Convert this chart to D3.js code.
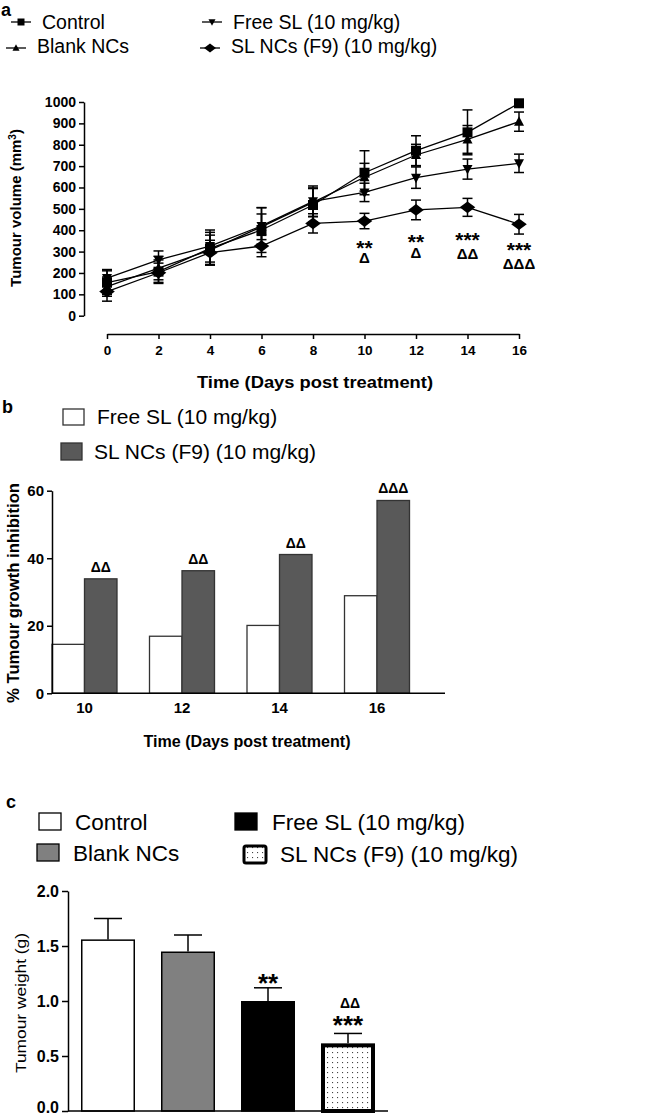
<!DOCTYPE html>
<html>
<head>
<meta charset="utf-8">
<script src="https://cdn.jsdelivr.net/npm/d3@7"></script>
<style>
  body { margin: 0; background: #fff; }
  svg { font-family: "Liberation Sans", Arial, sans-serif; }
  .axis text { font-weight: bold; fill: #000; }
  .axis path, .axis line { stroke: #000; stroke-width: 1.5; }
</style>
</head>
<body>
<script>
// ---- data ----
var days = [0, 2, 4, 6, 8, 10, 12, 14, 16];
var volControl = [155, 206, 315, 401, 518, 669, 772, 858, 994];
var errControl = [55, 55, 75, 105, 80, 103, 70, 105, 15];
var volBlank = [136, 223, 307, 416, 530, 648, 752, 825, 908];
var errBlank = [45, 55, 70, 60, 65, 65, 50, 65, 45];
var volFreeSL = [176, 261, 326, 420, 535, 577, 646, 686, 713];
var errFreeSL = [40, 42, 75, 85, 72, 43, 50, 47, 43];
var volSLNCs = [113, 201, 295, 326, 432, 443, 495, 507, 428];
var errSLNCs = [45, 45, 58, 50, 45, 36, 46, 42, 46];

var sigDays = [10, 12, 14, 16];
var sigStars = ["**", "**", "***", "***"];
var sigStarsAt = [283, 311, 320, 274];     // mm3 units, baseline
var sigDeltas = ["\u0394", "\u0394", "\u0394\u0394", "\u0394\u0394\u0394"];
var sigDeltasAt = [247, 270, 265, 219];

var inhibDays = ["10", "12", "14", "16"];
var inhibFreeSL = [14.5, 16.9, 20.1, 28.9];
var inhibSLNCs = [33.9, 36.3, 41.1, 57.1];
var inhibDeltas = ["\u0394\u0394", "\u0394\u0394", "\u0394\u0394", "\u0394\u0394\u0394"];

var weightGroups = ["Control", "Blank NCs", "Free SL (10 mg/kg)", "SL NCs (F9) (10 mg/kg)"];
var weightMean = [1.56, 1.45, 1.00, 0.615];
var weightErr = [0.19, 0.15, 0.12, 0.09];
var weightStars = ["", "", "**", "***"];
var weightStarsAt = [0, 0, 1.082, 0.70];
var weightDeltas = ["", "", "", "\u0394\u0394"];
var weightDeltasAt = [0, 0, 0, 0.936];

var width = 649, height = 1117;
var svg = d3.select("body").append("svg")
    .attr("width", width)
    .attr("height", height);

// dotted pattern for SL NCs bar
var pat = svg.append("defs").append("pattern")
    .attr("id", "dots")
    .attr("width", 5).attr("height", 5)
    .attr("patternUnits", "userSpaceOnUse");
pat.append("rect").attr("width", 5).attr("height", 5).attr("fill", "#fff");
pat.append("rect").attr("x", 2).attr("y", 2).attr("width", 1.1).attr("height", 1.1).attr("fill", "#444");

function panelLetter (t, x, y) {
    svg.append("text").attr("x", x).attr("y", y)
        .attr("font-size", 18).attr("font-weight", "bold").text(t);
}

function yTitle (x, y, size, weight, text) {
    return svg.append("text")
        .attr("transform", "translate(" + x + "," + y + ") rotate(-90)")
        .attr("text-anchor", "middle")
        .attr("font-size", size)
        .attr("font-weight", weight)
        .text(text);
}

// marker shapes
function markerPath (kind, s) {
    if (kind == "square") return "M" + (-s/2) + "," + (-s/2) + "h" + s + "v" + s + "h" + (-s) + "Z";
    if (kind == "up") return "M0," + (-s*0.55) + "L" + (s/2) + "," + (s*0.4) + "L" + (-s/2) + "," + (s*0.4) + "Z";
    if (kind == "down") return "M0," + (s*0.55) + "L" + (s/2) + "," + (-s*0.4) + "L" + (-s/2) + "," + (-s*0.4) + "Z";
    return "M0," + (-s*0.45) + "L" + (s*0.6) + ",0L0," + (s*0.45) + "L" + (-s*0.6) + ",0Z";
}

// ================= panel a =================
panelLetter("a", 1, 16);

var seriesA = [
    { name: "Control", vals: volControl, errs: errControl, kind: "square", lx: 11, ly: 22, tx: 42, ty: 29 },
    { name: "Blank NCs", vals: volBlank, errs: errBlank, kind: "up", lx: 6, ly: 48, tx: 37, ty: 53 },
    { name: "Free SL (10 mg/kg)", vals: volFreeSL, errs: errFreeSL, kind: "down", lx: 202, ly: 22, tx: 233, ty: 29 },
    { name: "SL NCs (F9) (10 mg/kg)", vals: volSLNCs, errs: errSLNCs, kind: "diamond", lx: 200, ly: 48, tx: 231, ty: 53 }
];

seriesA.forEach(function (s) {
    var g = svg.append("g");
    g.append("line").attr("x1", s.lx).attr("x2", s.lx + 20).attr("y1", s.ly).attr("y2", s.ly)
        .attr("stroke", "#000").attr("stroke-width", 1.3);
    g.append("path").attr("transform", "translate(" + (s.lx + 10) + "," + s.ly + ")")
        .attr("d", markerPath(s.kind, s.kind == "diamond" ? 10 : 7)).attr("fill", "#000");
    g.append("text").attr("x", s.tx).attr("y", s.ty).attr("font-size", 19.5).text(s.name);
});

var xA = d3.scaleLinear().domain([0, 16]).range([107, 519]);
var yA = d3.scaleLinear().domain([0, 1000]).range([315.7, 102]);

svg.append("g").attr("class", "axis")
    .attr("transform", "translate(84,0)")
    .call(d3.axisLeft(yA).tickValues(d3.range(0, 1001, 100)).tickFormat(d3.format("d"))
        .tickSize(5).tickSizeOuter(0).tickPadding(3))
    .selectAll("text").attr("font-size", 14);

svg.append("g").attr("class", "axis")
    .attr("transform", "translate(0,334)")
    .call(d3.axisBottom(xA).tickValues(days).tickSize(5).tickSizeOuter(0).tickPadding(6))
    .selectAll("text").attr("font-size", 13.5);

var lineA = d3.line().x(function (d) { return xA(d[0]); }).y(function (d) { return yA(d[1]); });

seriesA.forEach(function (s) {
    var pts = days.map(function (d, i) { return [d, s.vals[i], s.errs[i]]; });
    svg.append("path").datum(pts).attr("d", lineA)
        .attr("fill", "none").attr("stroke", "#000").attr("stroke-width", 1.3);
    var eb = svg.append("g").attr("stroke", "#000").attr("stroke-width", 1.5);
    pts.forEach(function (p) {
        var x = xA(p[0]);
        eb.append("line").attr("x1", x).attr("x2", x).attr("y1", yA(p[1] - p[2])).attr("y2", yA(p[1] + p[2]));
        eb.append("line").attr("x1", x - 5).attr("x2", x + 5).attr("y1", yA(p[1] + p[2])).attr("y2", yA(p[1] + p[2]));
        eb.append("line").attr("x1", x - 5).attr("x2", x + 5).attr("y1", yA(p[1] - p[2])).attr("y2", yA(p[1] - p[2]));
    });
});
seriesA.forEach(function (s) {
    svg.append("g").selectAll("path").data(days).join("path")
        .attr("transform", function (d, i) { return "translate(" + xA(d) + "," + yA(s.vals[i]) + ")"; })
        .attr("d", markerPath(s.kind, s.kind == "diamond" ? 13 : 10))
        .attr("fill", "#000");
});

sigDays.forEach(function (d, i) {
    svg.append("text").attr("x", xA(d)).attr("y", yA(sigStarsAt[i]))
        .attr("text-anchor", "middle").attr("font-size", 21).attr("font-weight", "bold").text(sigStars[i]);
    svg.append("text").attr("x", xA(d)).attr("y", yA(sigDeltasAt[i]))
        .attr("text-anchor", "middle").attr("font-size", 15).attr("font-weight", "bold").text(sigDeltas[i]);
});

svg.append("text").attr("x", 315).attr("y", 388).attr("text-anchor", "middle")
    .attr("font-size", 16.5).attr("font-weight", "bold")
    .attr("textLength", 236).attr("lengthAdjust", "spacingAndGlyphs")
    .text("Time (Days post treatment)");
var tA = yTitle(21, 208, 15, "bold", "Tumour volume (mm");
tA.append("tspan").attr("dy", -5).attr("font-size", 10).text("3");
tA.append("tspan").attr("dy", 5).text(")");

// ================= panel b =================
panelLetter("b", 2, 413);

svg.append("rect").attr("x", 63).attr("y", 409).attr("width", 21).attr("height", 16)
    .attr("fill", "#fff").attr("stroke", "#333").attr("stroke-width", 1.3);
svg.append("text").attr("x", 97).attr("y", 424).attr("font-size", 21).text("Free SL (10 mg/kg)");
svg.append("rect").attr("x", 61).attr("y", 443).attr("width", 21).attr("height", 17)
    .attr("fill", "#595959").attr("stroke", "#333").attr("stroke-width", 1.3);
svg.append("text").attr("x", 94).attr("y", 459).attr("font-size", 21).text("SL NCs (F9) (10 mg/kg)");

var x0 = d3.scaleBand().domain(inhibDays).range([52, 409.5]).paddingInner(1/3).paddingOuter(0);
var x1 = d3.scaleBand().domain(["free", "nc"]).range([0, x0.bandwidth()]);
var yB = d3.scaleLinear().domain([0, 60]).range([693.3, 490.7]);

var gB = svg.append("g");
gB.selectAll("rect.free").data(inhibDays).join("rect")
    .attr("x", function (d) { return x0(d) + x1("free"); })
    .attr("y", function (d, i) { return yB(inhibFreeSL[i]); })
    .attr("width", x1.bandwidth())
    .attr("height", function (d, i) { return yB(0) - yB(inhibFreeSL[i]); })
    .attr("fill", "#fff").attr("stroke", "#333").attr("stroke-width", 1.3);
gB.selectAll("rect.nc").data(inhibDays).join("rect")
    .attr("x", function (d) { return x0(d) + x1("nc"); })
    .attr("y", function (d, i) { return yB(inhibSLNCs[i]); })
    .attr("width", x1.bandwidth())
    .attr("height", function (d, i) { return yB(0) - yB(inhibSLNCs[i]); })
    .attr("fill", "#595959").attr("stroke", "#333").attr("stroke-width", 1.3);
gB.selectAll("text").data(inhibDays).join("text")
    .attr("x", function (d) { return x0(d) + x1("nc") + x1.bandwidth() / 2; })
    .attr("y", function (d, i) { return yB(inhibSLNCs[i]) - 7; })
    .attr("text-anchor", "middle").attr("font-size", 14).attr("font-weight", "bold")
    .text(function (d, i) { return inhibDeltas[i]; });

svg.append("g").attr("class", "axis")
    .attr("transform", "translate(52,0)")
    .call(d3.axisLeft(yB).tickValues([0, 20, 40, 60]).tickSize(5).tickSizeOuter(0).tickPadding(3))
    .selectAll("text").attr("font-size", 15);

var axB = svg.append("g").attr("class", "axis")
    .attr("transform", "translate(0,693.3)")
    .call(d3.axisBottom(x0).tickSize(0).tickSizeOuter(0).tickPadding(9));
axB.select(".domain").remove();
axB.selectAll("text").attr("font-size", 15);
svg.append("line").attr("x1", 52).attr("x2", 445).attr("y1", 693.3).attr("y2", 693.3)
    .attr("stroke", "#000").attr("stroke-width", 1.5);

svg.append("text").attr("x", 247).attr("y", 747).attr("text-anchor", "middle")
    .attr("font-size", 16).attr("font-weight", "bold")
    .attr("textLength", 207).attr("lengthAdjust", "spacingAndGlyphs")
    .text("Time (Days post treatment)");
yTitle(19, 593, 16, "bold", "% Tumour growth inhibition")
    .attr("textLength", 220).attr("lengthAdjust", "spacingAndGlyphs");

// ================= panel c =================
panelLetter("c", 6, 808);

var fillsC = ["#fff", "#808080", "#000", "url(#dots)"];
var strokeC = [1.5, 1.5, 1.5, 4];
var legC = [
    { x: 39, y: 813, tx: 75, ty: 830 },
    { x: 37, y: 844, tx: 73, ty: 861 },
    { x: 235, y: 813, tx: 272, ty: 830 },
    { x: 244, y: 846, tx: 280, ty: 862 }
];
legC.forEach(function (l, i) {
    svg.append("rect").attr("x", l.x).attr("y", l.y).attr("width", 22).attr("height", 17)
        .attr("rx", i == 3 ? 2 : 0)
        .attr("fill", fillsC[i]).attr("stroke", "#000").attr("stroke-width", i == 3 ? 3 : 1.3);
    svg.append("text").attr("x", l.tx).attr("y", l.ty).attr("font-size", 22.5).text(weightGroups[i]);
});

var xC = d3.scaleBand().domain(weightGroups).range([68, 388]).paddingInner(0.325).paddingOuter(0.1625);
var yC = d3.scaleLinear().domain([0, 2]).range([1111, 891]);

var gC = svg.append("g");
weightGroups.forEach(function (grp, i) {
    var x = xC(grp), w = xC.bandwidth(), cx = x + w / 2;
    var sw = strokeC[i];
    var eTop = yC(weightMean[i] + weightErr[i]);
    gC.append("line").attr("x1", cx).attr("x2", cx).attr("y1", yC(weightMean[i])).attr("y2", eTop)
        .attr("stroke", "#000").attr("stroke-width", 1.5);
    gC.append("line").attr("x1", cx - 14).attr("x2", cx + 14).attr("y1", eTop).attr("y2", eTop)
        .attr("stroke", "#000").attr("stroke-width", 1.5);
    gC.append("rect")
        .attr("x", x + sw / 2).attr("y", yC(weightMean[i]) + sw / 2)
        .attr("width", w - sw).attr("height", yC(0) - yC(weightMean[i]) - sw / 2)
        .attr("fill", fillsC[i]).attr("stroke", "#000").attr("stroke-width", sw);
    if (weightStars[i]) {
        gC.append("text").attr("x", cx).attr("y", yC(weightStarsAt[i]))
            .attr("text-anchor", "middle").attr("font-size", 26).attr("font-weight", "bold").text(weightStars[i]);
    }
    if (weightDeltas[i]) {
        gC.append("text").attr("x", cx + 2).attr("y", yC(weightDeltasAt[i]))
            .attr("text-anchor", "middle").attr("font-size", 14).attr("font-weight", "bold").text(weightDeltas[i]);
    }
});

var axC = svg.append("g").attr("class", "axis")
    .attr("transform", "translate(68,0)")
    .call(d3.axisLeft(yC).tickValues([0, 0.5, 1, 1.5, 2]).tickFormat(d3.format(".1f"))
        .tickSize(6).tickSizeOuter(0).tickPadding(3));
axC.selectAll("text").attr("font-size", 16)
    .attr("dy", function (d) { return d == 0 ? "0.1em" : "0.32em"; });
svg.append("line").attr("x1", 68).attr("x2", 388).attr("y1", 1111).attr("y2", 1111)
    .attr("stroke", "#000").attr("stroke-width", 1.5);

yTitle(26, 1003, 15.5, "normal", "Tumour weight (g)").attr("textLength", 140).attr("lengthAdjust", "spacingAndGlyphs");
</script>
</body>
</html>
